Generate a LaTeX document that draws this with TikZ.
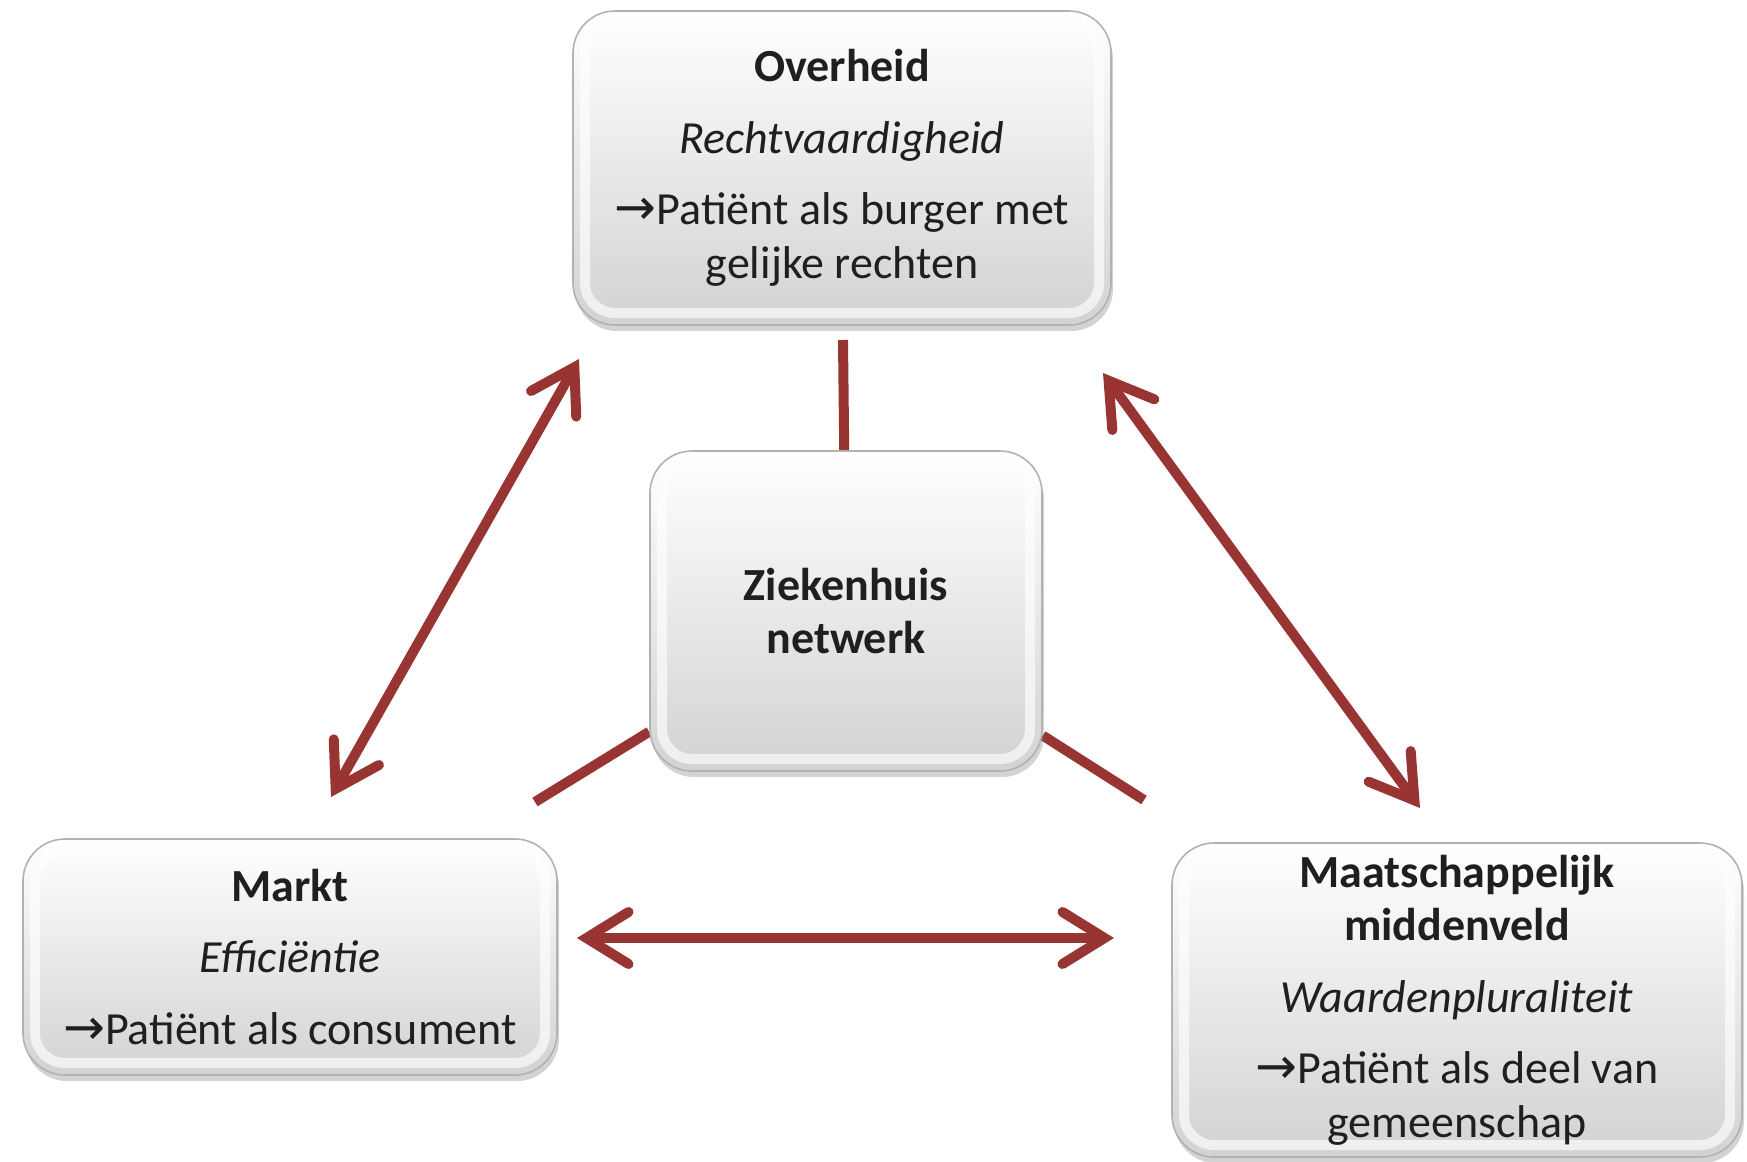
\documentclass[tikz,border=0pt]{standalone}
\usepackage{fontspec}
\setmainfont{Carlito}
\newfontfamily\symfont{DejaVu Sans}
\usepackage{tikz}
\usetikzlibrary{arrows.meta,shadows,backgrounds,positioning}
\definecolor{pijlrood}{RGB}{152,52,50}
\newcommand{\pijl}{{\symfont\fontsize{25}{25}\selectfont →}}

\begin{document}
\begin{tikzpicture}[x=0.5pt, y=-0.5pt,
	blok/.style={rectangle, rounded corners=21pt, draw=gray!60, line width=0.8pt,
		top color=white, bottom color=gray!35, align=center, inner sep=0pt,
		text=black!88, font=\fontsize{23}{26.75}\selectfont,
		path picture={\draw[white, opacity=.65, line width=5pt, rounded corners=15pt]
			([shift={(6pt,-6pt)}]path picture bounding box.north west) rectangle
			([shift={(-6pt,6pt)}]path picture bounding box.south east);},
		drop shadow={shadow xshift=1pt, shadow yshift=-3pt, opacity=.35}},
	verbind/.style={draw=pijlrood, line width=5pt},
	dubbel/.style={verbind, {Straight Barb[length=21pt,width=26pt,line cap=round]}-{Straight Barb[length=21pt,width=26pt,line cap=round]}}]
	\useasboundingbox (0,0) rectangle (1747,1162);
	\node (ovh) [blok, minimum width=269pt, minimum height=157pt] at (842,168)
		{\textbf{Overheid}\\[9pt]\textit{Rechtvaardigheid}\\[9pt]\pijl Patiënt als burger met\\gelijke rechten};
	\node (zkh) [blok, minimum width=196pt, minimum height=160pt] at (846,611)
		{\textbf{Ziekenhuis}\\\textbf{netwerk}};
	\node (markt) [blok, minimum width=267pt, minimum height=118pt] at (290,957)
		{\textbf{Markt}\\[9pt]\textit{Efficiëntie}\\[9pt]\pijl Patiënt als consument};
	\node (mvd) [blok, minimum width=285pt, minimum height=157pt] at (1457,1000)
		{\textbf{Maatschappelijk}\\\textbf{middenveld}\\[9pt]\textit{Waardenpluraliteit}\\[9pt]\pijl Patiënt als deel van\\gemeenschap};
	% vrije uiteinden
	\coordinate (ovh-onder) at (843,340);
	\coordinate (zkh-l) at (535,802);
	\coordinate (zkh-r) at (1144,800);
	\coordinate (markt-o) at (331,797);
	\coordinate (ovh-l) at (579,359);
	\coordinate (ovh-r) at (1103,373);
	\coordinate (mvd-o) at (1420,808);
	\coordinate (markt-r) at (577,938);
	\coordinate (mvd-l) at (1114,938);
	\begin{pgfonlayer}{background}
		\draw[verbind] (ovh-onder) -- (zkh);
		\draw[verbind] (zkh-l) -- (zkh);
		\draw[verbind] (zkh-r) -- (zkh);
	\end{pgfonlayer}
	\draw[dubbel] (markt-o) -- (ovh-l);
	\draw[dubbel] (ovh-r) -- (mvd-o);
	\draw[dubbel] (markt-r) -- (mvd-l);
\end{tikzpicture}
\end{document}
